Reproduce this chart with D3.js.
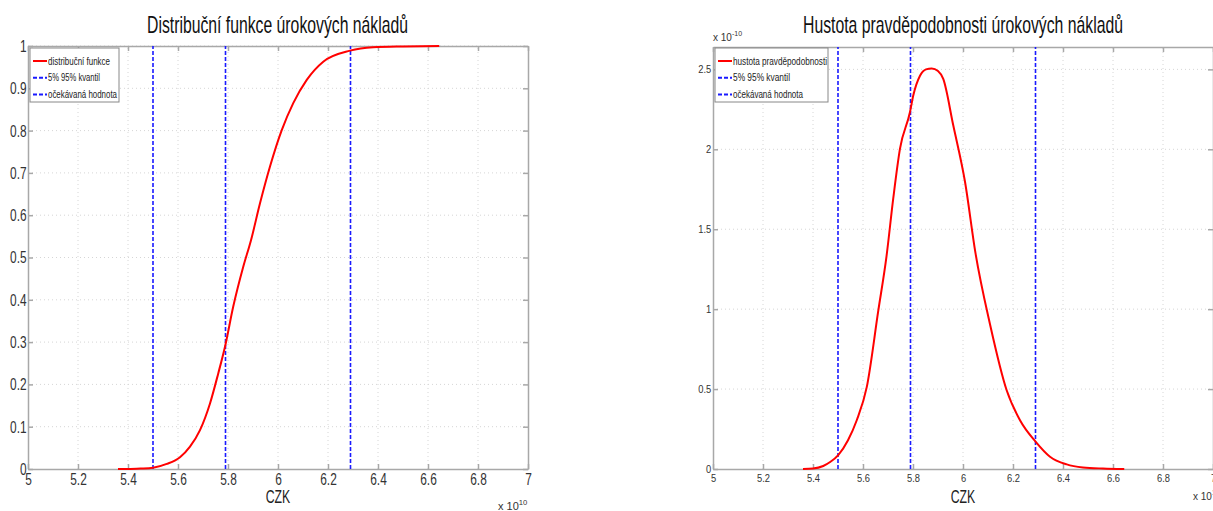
<!DOCTYPE html>
<html>
<head>
<meta charset="utf-8">
<script src="https://cdn.jsdelivr.net/npm/d3@7"></script>
<style>
  body { margin: 0; background: #fff; }
  svg { display: block; font-family: "Liberation Sans", Arial, sans-serif; }
</style>
</head>
<body>
<script>
// ---- data ----
const xTicks = [5, 5.2, 5.4, 5.6, 5.8, 6, 6.2, 6.4, 6.6, 6.8, 7];
const cdfTicks = [0, 0.1, 0.2, 0.3, 0.4, 0.5, 0.6, 0.7, 0.8, 0.9, 1];
const pdfTicks = [0, 0.5, 1, 1.5, 2, 2.5];

// distribucni funkce (x in 1e10 CZK)
const cdfX = [5.36, 5.40, 5.45, 5.50, 5.555, 5.608, 5.648, 5.688, 5.728, 5.761, 5.788, 5.821, 5.861, 5.892, 5.928, 5.968, 6.015, 6.061, 6.115, 6.181, 6.288, 6.381, 6.50, 6.645];
const cdfY = [0, 0, 0.001, 0.003, 0.012, 0.028, 0.053, 0.092, 0.155, 0.226, 0.289, 0.384, 0.478, 0.541, 0.628, 0.715, 0.801, 0.865, 0.920, 0.963, 0.989, 0.997, 0.999, 1.0];

// hustota (x in 1e10 CZK, y in 1e-10)
const pdfX = [5.36, 5.40, 5.441, 5.47, 5.501, 5.54, 5.575, 5.615, 5.661, 5.694, 5.721, 5.748, 5.788, 5.801, 5.828, 5.852, 5.875, 5.90, 5.921, 5.961, 6.008, 6.05, 6.108, 6.175, 6.228, 6.291, 6.348, 6.415, 6.48, 6.56, 6.645];
const pdfY = [0, 0.003, 0.019, 0.045, 0.087, 0.18, 0.305, 0.512, 0.989, 1.33, 1.693, 2.004, 2.233, 2.336, 2.46, 2.50, 2.506, 2.49, 2.44, 2.15, 1.797, 1.35, 0.906, 0.491, 0.305, 0.170, 0.077, 0.029, 0.01, 0.003, 0];

const quantiles = [5.5, 6.29];   // 5% 95% kvantil
const expected = [5.79];          // ocekavana hodnota

const cdfLegend = ["distribuční funkce", "5% 95% kvantil", "očekávaná hodnota"];
const pdfLegend = ["hustota pravděpodobnosti", "5% 95% kvantil", "očekávaná hodnota"];

const width = 1213, height = 511;

const svg = d3.select("body")
  .append("svg")
  .attr("width", width)
  .attr("height", height)
  .style("background-color", "#fff");

function drawPanel(p) {
  const xScale = d3.scaleLinear().domain([5, 7]).range(p.xr);
  const yScale = d3.scaleLinear().domain(p.yDomain).range(p.yr);
  const g = svg.append("g");

  // grid (dotted, like matlab)
  g.selectAll(".gx")
    .data(xTicks.slice(1, -1))
    .enter()
    .append("line")
    .attr("x1", d => xScale(d)).attr("x2", d => xScale(d))
    .attr("y1", p.yr[0]).attr("y2", p.yr[1])
    .attr("stroke", "#d6d6d6").attr("stroke-width", 1)
    .attr("stroke-dasharray", "1,3");
  g.selectAll(".gy")
    .data(p.yTicks.slice(1))
    .enter()
    .append("line")
    .attr("x1", p.xr[0]).attr("x2", p.xr[1])
    .attr("y1", d => yScale(d)).attr("y2", d => yScale(d))
    .attr("stroke", "#d6d6d6").attr("stroke-width", 1)
    .attr("stroke-dasharray", "1,3");

  // axes, ticks pointing inward
  const xAxis = d3.axisBottom(xScale).tickValues(xTicks)
    .tickSizeInner(-5).tickSizeOuter(0).tickPadding(p.xPad)
    .tickFormat(d => String(+d.toFixed(1)));
  const yAxis = d3.axisLeft(yScale).tickValues(p.yTicks)
    .tickSizeInner(-5).tickSizeOuter(0).tickPadding(p.yPad)
    .tickFormat(d => String(+d.toFixed(1)));

  const gx = g.append("g")
    .attr("transform", `translate(0, ${p.yr[0]})`)
    .call(xAxis);
  const gy = g.append("g")
    .attr("transform", `translate(${p.xr[0]}, 0)`)
    .call(yAxis);
  g.append("g")
    .attr("transform", `translate(0, ${p.yr[1]})`)
    .call(d3.axisTop(xScale).tickValues(xTicks).tickSizeInner(-5).tickSizeOuter(0).tickFormat(""));
  g.append("g")
    .attr("transform", `translate(${p.xr[1]}, 0)`)
    .call(d3.axisRight(yScale).tickValues(p.yTicks).tickSizeInner(-5).tickSizeOuter(0).tickFormat(""));

  g.selectAll(".domain, .tick line")
    .attr("stroke", "#a8a8a8")
    .attr("stroke-width", 1.5);
  [gx, gy].forEach(a => a.selectAll("text")
    .attr("font-family", "Liberation Sans, Arial, sans-serif")
    .attr("font-size", p.tickFont + "px")
    .attr("fill", "#333")
    .attr("transform", `scale(${p.squeeze},1)`));

  // vertical dashed lines
  g.selectAll(".vline")
    .data(quantiles.concat(expected))
    .enter()
    .append("line")
    .attr("x1", d => xScale(d)).attr("x2", d => xScale(d))
    .attr("y1", p.yr[0]).attr("y2", p.yr[1])
    .attr("stroke", "#1a1aff").attr("stroke-width", 1.6)
    .attr("stroke-dasharray", "4,2");

  // curve
  const line = d3.line()
    .x(d => xScale(d[0]))
    .y(d => yScale(d[1]))
    .curve(d3.curveMonotoneX);
  g.append("path")
    .datum(d3.zip(p.cx, p.cy))
    .attr("d", line)
    .attr("fill", "none")
    .attr("stroke", "#ff0000")
    .attr("stroke-width", 2);

  // title
  g.append("text")
    .attr("x", p.titleX).attr("y", 33)
    .attr("font-size", "24px")
    .attr("fill", "#111")
    .attr("textLength", p.titleLen)
    .attr("lengthAdjust", "spacingAndGlyphs")
    .text(p.title);

  // x label
  g.append("text")
    .attr("transform", `translate(${(p.xr[0] + p.xr[1]) / 2}, 503) scale(0.68,1)`)
    .attr("text-anchor", "middle")
    .attr("font-size", "18px")
    .attr("fill", "#222")
    .text("CZK");

  // x exponent
  const ex = g.append("text")
    .attr("x", p.expX).attr("y", p.expY)
    .attr("font-size", p.expFont + "px")
    .attr("fill", "#333");
  ex.append("tspan").text("x 10");
  ex.append("tspan").attr("dy", -p.expFont * 0.5)
    .attr("font-size", (p.expFont * 0.7) + "px").text("10");

  // legend
  const lg = g.append("g");
  lg.append("rect")
    .attr("x", p.legX).attr("y", 48)
    .attr("width", p.legW).attr("height", 54)
    .attr("fill", "#fff").attr("stroke", "#888").attr("stroke-width", 1);
  p.legend.forEach((label, i) => {
    const yy = 61 + i * 16.7;
    lg.append("line")
      .attr("x1", p.legX + 3).attr("x2", p.legX + p.legLine)
      .attr("y1", yy).attr("y2", yy)
      .attr("stroke", i === 0 ? "#ff0000" : "#1a1aff")
      .attr("stroke-width", 2)
      .attr("stroke-dasharray", i === 0 ? null : "4,2");
    lg.append("text")
      .attr("x", p.legX + p.legLine + 1).attr("y", yy + 3.5)
      .attr("font-size", p.legFont + "px")
      .attr("fill", "#222")
      .attr("textLength", p.legLens[i])
      .attr("lengthAdjust", "spacingAndGlyphs")
      .text(label);
  });
  return g;
}

drawPanel({
  xr: [28, 528], yr: [469, 46], yDomain: [0, 1], yTicks: cdfTicks,
  cx: cdfX, cy: cdfY,
  tickFont: 17, squeeze: 0.7, xPad: 4, yPad: 2,
  title: "Distribuční funkce úrokových nákladů", titleX: 147, titleLen: 261,
  expX: 498, expY: 510, expFont: 11,
  legend: cdfLegend, legX: 30, legW: 89, legLine: 17, legFont: 10, legLens: [62, 52, 69]
});

const right = drawPanel({
  xr: [713, 1213], yr: [469, 47], yDomain: [0, 2.64], yTicks: pdfTicks,
  cx: pdfX, cy: pdfY,
  tickFont: 11, squeeze: 0.85, xPad: 5, yPad: 2,
  title: "Hustota pravděpodobnosti úrokových nákladů", titleX: 803, titleLen: 320,
  expX: 1193, expY: 500, expFont: 10,
  legend: pdfLegend, legX: 715, legW: 113, legLine: 17, legFont: 10.5, legLens: [94, 57, 70]
});

// y exponent on the density panel
const ey = right.append("text")
  .attr("x", 713).attr("y", 41)
  .attr("font-size", "10px")
  .attr("fill", "#333");
ey.append("tspan").text("x 10");
ey.append("tspan").attr("dy", -5).attr("font-size", "7px").text("-10");
</script>
</body>
</html>
